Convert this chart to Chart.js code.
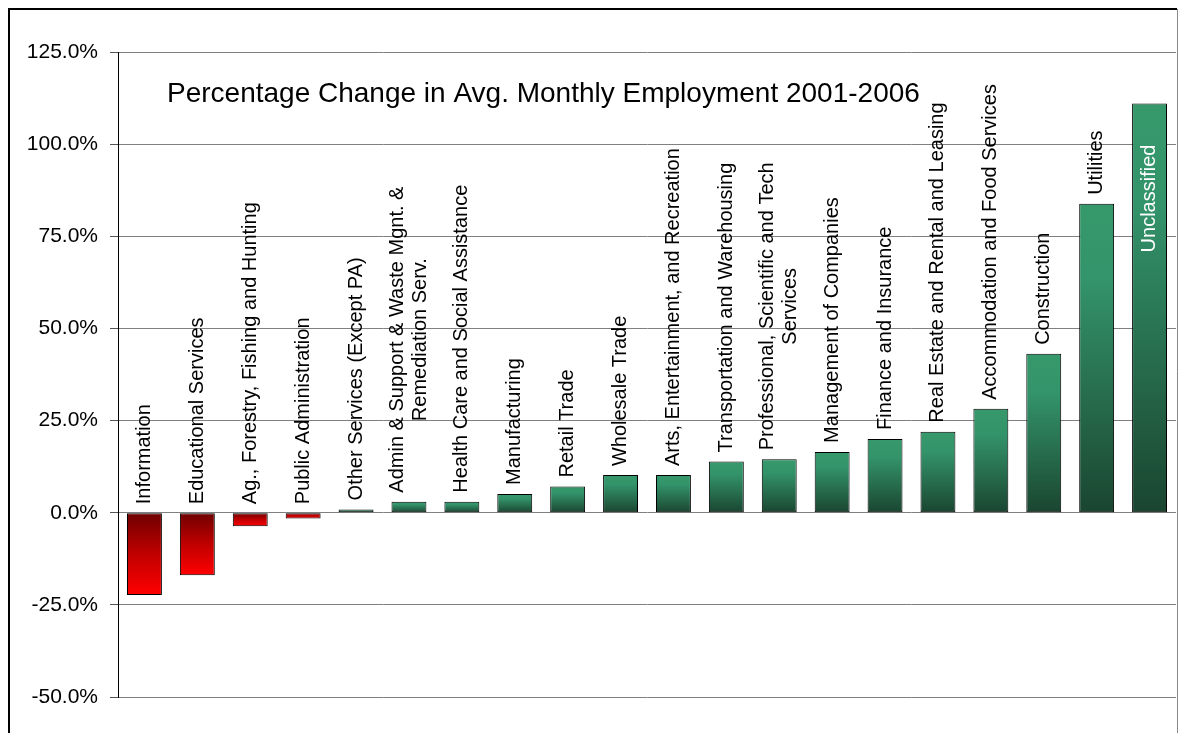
<!DOCTYPE html>
<html>
<head>
<meta charset="utf-8">
<script src="https://cdn.jsdelivr.net/npm/chart.js@4"></script>
<style>
  body { margin: 0; background: #fff; }
  #wrap { width: 1186px; height: 733px; }
</style>
</head>
<body>
<div id="wrap"><canvas id="chart" width="1186" height="733"></canvas></div>
<script>
// industries, sorted by change
const industries = [
    'Information',
    'Educational Services',
    'Ag., Forestry, Fishing and Hunting',
    'Public Administration',
    'Other Services (Except PA)',
    ['Admin & Support & Waste Mgnt. &', 'Remediation Serv.'],
    'Health Care and Social Assistance',
    'Manufacturing',
    'Retail Trade',
    'Wholesale Trade',
    'Arts, Entertainment, and Recreation',
    'Transportation and Warehousing',
    ['Professional, Scientific and Tech', 'Services'],
    'Management of Companies',
    'Finance and Insurance',
    'Real Estate and Rental and Leasing',
    'Accommodation and Food Services',
    'Construction',
    'Utilities',
    'Unclassified'
];

// % change in avg. monthly employment 2001-2006
const pctChange = [
    -22.3, -17.0, -3.7, -1.6, 0.9, 3.0, 3.0, 5.1, 7.1, 10.2,
    10.2, 13.9, 14.5, 16.5, 20.0, 22.0, 28.2, 43.1, 83.8, 111.0
];

const yTicks = [-50, -25, 0, 25, 50, 75, 100, 125];

const FONT = '"Liberation Sans", Arial, sans-serif';
const TITLE = 'Percentage Change in Avg. Monthly Employment 2001-2006';

// each bar gets its own vertical gradient, dark at the zero line for losses,
// light at the top for gains
function barFill(ctx) {
    const chart = ctx.chart;
    const v = ctx.raw;
    if (!chart.chartArea || !chart.scales.y) return v < 0 ? '#c00000' : '#2a7a54';
    const y = chart.scales.y;
    const p0 = y.getPixelForValue(0);
    const p1 = y.getPixelForValue(v);
    const g = chart.ctx.createLinearGradient(0, Math.min(p0, p1), 0, Math.max(p0, p1));
    if (v < 0) {
        g.addColorStop(0, '#6e0000');
        g.addColorStop(0.5, '#c00000');
        g.addColorStop(1, '#ff0000');
    } else {
        g.addColorStop(0, '#36996b');
        g.addColorStop(0.25, '#33936a');
        g.addColorStop(1, '#1a4530');
    }
    return g;
}

// rotated category names above each bar, title and outer frame
const decorations = {
    id: 'decorations',
    afterDatasetsDraw(chart) {
        const { ctx, chartArea } = chart;
        const meta = chart.getDatasetMeta(0);
        const size = 20;
        const lh = 23;
        ctx.save();
        ctx.font = size + 'px ' + FONT;
        ctx.textBaseline = 'middle';
        meta.data.forEach((bar, i) => {
            const lines = Array.isArray(industries[i]) ? industries[i] : [industries[i]];
            const maxW = Math.max(...lines.map(s => ctx.measureText(s).width));
            const top = Math.min(bar.y, bar.base);
            let start = top - 9;
            let color = '#000';
            if (start - maxW < chartArea.top) {
                // no room above: put it inside the bar
                start = top + 41 + maxW;
                color = '#fff';
            }
            ctx.save();
            ctx.translate(bar.x, start);
            ctx.rotate(-Math.PI / 2);
            ctx.fillStyle = color;
            ctx.textAlign = 'center';
            lines.forEach((s, k) => {
                const off = (k - (lines.length - 1) / 2) * lh;
                ctx.fillText(s, maxW / 2, off);
            });
            ctx.restore();
        });

        ctx.fillStyle = '#000';
        ctx.textAlign = 'left';
        ctx.textBaseline = 'alphabetic';
        ctx.font = '28px ' + FONT;
        ctx.fillText(TITLE, chartArea.left + 49, chartArea.top + 50);

        // outer frame
        ctx.strokeStyle = '#000';
        ctx.lineWidth = 2;
        ctx.beginPath();
        ctx.moveTo(9, chart.height + 5);
        ctx.lineTo(9, 9);
        ctx.lineTo(1177, 9);
        ctx.stroke();
        ctx.strokeStyle = '#888';
        ctx.lineWidth = 1;
        ctx.beginPath();
        ctx.moveTo(1177.5, 9);
        ctx.lineTo(1177.5, chart.height + 5);
        ctx.stroke();
        ctx.restore();
    }
};

new Chart(document.getElementById('chart'), {
    type: 'bar',
    data: {
        labels: industries,
        datasets: [{
            data: pctChange,
            backgroundColor: barFill,
            borderColor: '#000',
            borderWidth: 1,
            borderSkipped: false,
            barPercentage: 0.66,
            categoryPercentage: 1
        }]
    },
    options: {
        responsive: false,
        animation: false,
        layout: { padding: { top: 52, right: 10, bottom: 36, left: 0 } },
        plugins: {
            legend: { display: false },
            tooltip: { enabled: false }
        },
        scales: {
            x: { display: false },
            y: {
                min: yTicks[0],
                max: yTicks[yTicks.length - 1],
                afterBuildTicks: s => { s.ticks = yTicks.map(v => ({ value: v })); },
                afterFit: s => { s.width = 118; },
                ticks: {
                    color: '#000',
                    padding: 12,
                    font: { family: FONT, size: 21 },
                    callback: v => v.toFixed(1) + '%'
                },
                grid: { color: '#808080', lineWidth: 1, tickLength: 8, tickColor: '#555' },
                border: { display: true, color: '#000', width: 1 }
            }
        }
    },
    plugins: [decorations]
});
</script>
</body>
</html>
